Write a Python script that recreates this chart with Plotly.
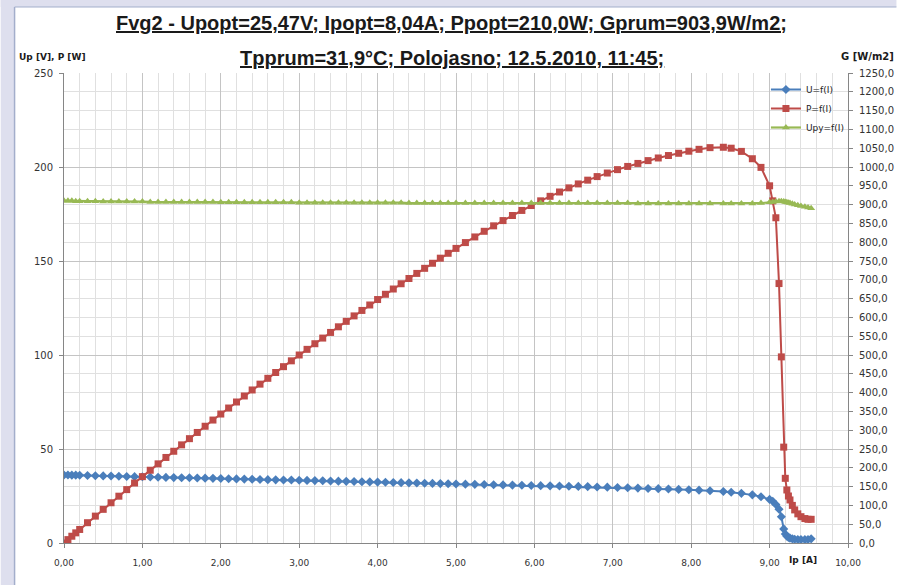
import plotly.graph_objects as go

# Current Ip [A]
I_vals = [0.00, 0.05, 0.10, 0.15, 0.20, 0.30, 0.40, 0.50, 0.60, 0.70, 0.80, 0.90,
          1.00, 1.10, 1.20, 1.30, 1.40, 1.50, 1.60, 1.70, 1.80, 1.90,
          2.00, 2.10, 2.20, 2.30, 2.40, 2.50, 2.60, 2.70, 2.80, 2.90,
          3.00, 3.10, 3.20, 3.30, 3.40, 3.50, 3.60, 3.70, 3.80, 3.90,
          4.00, 4.10, 4.20, 4.30, 4.40, 4.50, 4.60, 4.70, 4.80, 4.90, 5.00,
          5.12, 5.24, 5.36, 5.48, 5.60, 5.72, 5.84, 5.96, 6.08, 6.20, 6.32, 6.44, 6.56, 6.68, 6.80,
          6.93, 7.06, 7.19, 7.32, 7.45, 7.58, 7.71, 7.84, 7.97, 8.10,
          8.24, 8.41, 8.51, 8.64, 8.78, 8.89, 9.00,
          9.04, 9.08, 9.12, 9.15, 9.18, 9.20, 9.22, 9.24, 9.26, 9.29, 9.32, 9.36, 9.40, 9.45, 9.49, 9.53]

# Voltage U [V]
U_vals = [36.2, 36.2, 36.1, 36.1, 36.0, 35.9, 35.8, 35.7, 35.6, 35.5, 35.4, 35.3,
          35.2, 35.1, 35.0, 34.9, 34.8, 34.7, 34.7, 34.6, 34.5, 34.4,
          34.3, 34.2, 34.1, 34.0, 33.9, 33.8, 33.7, 33.6, 33.5, 33.5,
          33.4, 33.3, 33.2, 33.1, 33.0, 32.9, 32.8, 32.7, 32.6, 32.5,
          32.4, 32.3, 32.2, 32.1, 32.0, 31.9, 31.8, 31.7, 31.6, 31.5, 31.4,
          31.3, 31.2, 31.1, 31.0, 30.9, 30.8, 30.7, 30.6, 30.5, 30.4, 30.3, 30.2, 30.1, 30.0, 29.8,
          29.7, 29.5, 29.4, 29.2, 29.0, 28.9, 28.7, 28.5, 28.3, 28.1,
          27.8, 27.4, 27.0, 26.4, 25.6, 24.6, 23.2,
          22.2, 20.5, 18.0, 14.0, 7.5, 4.8, 3.6, 3.0, 2.6, 2.2, 2.0, 1.9, 1.8, 1.8, 1.9, 2.2]

# Power P [W]
P_vals = [0.0, 1.8, 3.6, 5.4, 7.2, 10.8, 14.3, 17.9, 21.4, 24.9, 28.4, 31.9,
          35.3, 38.7, 42.1, 45.5, 48.8, 52.2, 55.5, 58.8, 62.1, 65.4,
          68.6, 71.8, 75.0, 78.2, 81.4, 84.5, 87.6, 90.7, 93.8, 96.9,
          100.0, 103.0, 106.0, 109.0, 112.0, 115.0, 117.9, 120.8, 123.7, 126.6,
          129.5, 132.3, 135.1, 137.9, 140.7, 143.4, 146.1, 148.8, 151.5, 154.1, 156.7,
          159.8, 162.8, 165.8, 168.7, 171.5, 174.2, 176.9, 179.5, 182.0, 184.4, 186.7, 188.9, 191.0, 193.0, 194.9,
          196.8, 198.6, 200.3, 201.9, 203.4, 204.8, 206.1, 207.3, 208.4, 209.4,
          210.3, 210.5, 210.0, 208.3, 204.4, 199.8, 190.0,
          182.0, 173.0, 138.0, 99.0, 51.0, 34.4, 28.2, 25.0, 22.9, 20.0, 17.6, 15.5, 14.0, 13.0, 12.6, 12.6]

# Irradiance G [W/m2] (right axis)
G_vals = [910, 910, 910, 909, 909, 909, 909, 908, 908, 908, 908, 908,
          908, 907, 907, 907, 907, 907, 907, 907, 907, 907,
          906, 906, 906, 906, 906, 906, 906, 906, 906, 906,
          905, 905, 905, 905, 905, 905, 905, 905, 905, 905,
          905, 905, 905, 905, 904, 904, 904, 904, 904, 904, 904,
          904, 904, 904, 904, 904, 904, 904, 904, 904, 904, 904, 904, 904, 904, 904,
          904, 904, 904, 903, 903, 903, 903, 903, 903, 903,
          903, 903, 903, 903, 903, 904, 906,
          907, 908, 909, 909, 908, 907, 906, 905, 904, 902, 900, 898, 896, 894, 892, 890]

series_names = ["U=f(I)", "P=f(I)", "Upy=f(I)"]
colors = ["#4A7EBB", "#BE4B48", "#98B954"]

title_line1 = "Fvg2 - Upopt=25,47V; Ipopt=8,04A; Ppopt=210,0W; Gprum=903,9W/m2;"
title_line2 = "Tpprum=31,9°C; Polojasno; 12.5.2010, 11:45;"

W, H = 906, 585
L, R, T, B = 64, 49, 73, 42
pw, ph = W - L - R, H - T - B

def px(x):
    return (x - L) / pw

def py(y):
    return (H - B - y) / ph

fig = go.Figure()
fig.add_trace(go.Scatter(x=I_vals, y=U_vals, name=series_names[0], mode="lines+markers",
                         line=dict(color=colors[0], width=2),
                         marker=dict(symbol="diamond", size=7, color=colors[0])))
fig.add_trace(go.Scatter(x=I_vals, y=P_vals, name=series_names[1], mode="lines+markers",
                         line=dict(color=colors[1], width=2),
                         marker=dict(symbol="square", size=7, color=colors[1])))
fig.add_trace(go.Scatter(x=I_vals, y=G_vals, name=series_names[2], mode="lines+markers", yaxis="y2",
                         line=dict(color=colors[2], width=2.2),
                         marker=dict(symbol="triangle-up", size=7, color=colors[2])))

tickfont = dict(family="DejaVu Sans", size=10, color="#333333")
xtickfont = dict(family="DejaVu Sans", size=9, color="#333333")
fig.update_layout(
    width=W, height=H,
    margin=dict(l=L, r=R, t=T, b=B, pad=0),
    paper_bgcolor="white", plot_bgcolor="white",
    separators=", ",
    showlegend=True,
    legend=dict(x=px(774), y=py(75), xanchor="left", yanchor="top",
                bgcolor="rgba(0,0,0,0)", font=dict(family="DejaVu Sans", size=9, color="#222"),
                tracegroupgap=0, itemwidth=30),
    xaxis=dict(range=[0, 10], dtick=1, tickformat=".2f", tickfont=xtickfont,
               showgrid=True, gridcolor="#c4c4c4", gridwidth=1,
               minor=dict(dtick=0.2, showgrid=True, gridcolor="#e0e0e0", gridwidth=1),
               showline=True, linecolor="#868686", linewidth=1, ticklabelstandoff=7,
               ticks="outside", ticklen=4, tickcolor="#868686", zeroline=False, fixedrange=True),
    yaxis=dict(range=[0, 250], dtick=50, tickfont=tickfont,
               showgrid=True, gridcolor="#c4c4c4", gridwidth=1,
               minor=dict(dtick=10, showgrid=True, gridcolor="#e0e0e0", gridwidth=1),
               showline=True, linecolor="#868686", linewidth=1, ticklabelstandoff=4,
               ticks="outside", ticklen=4, tickcolor="#868686", zeroline=False),
    yaxis2=dict(range=[0, 1250], dtick=50, tickformat=".1f", tickfont=tickfont,
                overlaying="y", side="right", showgrid=False,
                showline=True, linecolor="#868686", linewidth=1, ticklabelstandoff=4,
                ticks="outside", ticklen=4, tickcolor="#868686", zeroline=False),
)

# background frame (lavender strips of the spreadsheet window)
fig.add_shape(type="rect", xref="paper", yref="paper", x0=px(0), x1=px(14), y0=py(H), y1=py(0),
              fillcolor="#DEDFEE", line=dict(width=0), layer="below")
fig.add_shape(type="rect", xref="paper", yref="paper", x0=px(0), x1=px(W), y0=py(7), y1=py(0),
              fillcolor="#DEDFEE", line=dict(width=0), layer="below")
fig.add_shape(type="line", xref="paper", yref="paper", x0=px(14), x1=px(14), y0=py(H), y1=py(7),
              line=dict(color="#A3AECB", width=1.5), layer="below")
fig.add_shape(type="line", xref="paper", yref="paper", x0=px(14), x1=px(W), y0=py(7), y1=py(7),
              line=dict(color="#A3AECB", width=1), layer="below")

title_font = dict(family="Liberation Sans, sans-serif", size=20,
                  color="#1a1a1a", weight="bold", lineposition="under")
fig.add_annotation(text=title_line1, xref="paper", yref="paper", x=px(456), y=py(23),
                   xanchor="center", yanchor="middle", showarrow=False, font=title_font)
fig.add_annotation(text=title_line2, xref="paper", yref="paper", x=px(456), y=py(58),
                   xanchor="center", yanchor="middle", showarrow=False, font=title_font)

lab_font = dict(family="DejaVu Sans", size=9, color="#1a1a1a", weight="bold")
fig.add_annotation(text="Up [V], P [W]", xref="paper", yref="paper", x=px(52), y=py(57),
                   xanchor="center", yanchor="middle", showarrow=False, font=lab_font)
fig.add_annotation(text="G [W/m2]", xref="paper", yref="paper", x=px(877), y=py(57),
                   xanchor="center", yanchor="middle", showarrow=False,
                   font=dict(family="DejaVu Sans", size=10, color="#1a1a1a", weight="bold"))
fig.add_annotation(text="Ip [A]", xref="paper", yref="paper", x=px(811), y=py(560),
                   xanchor="center", yanchor="middle", showarrow=False,
                   font=dict(family="DejaVu Sans", size=9, color="#1a1a1a", weight="bold"))

fig.write_html("out.html")
